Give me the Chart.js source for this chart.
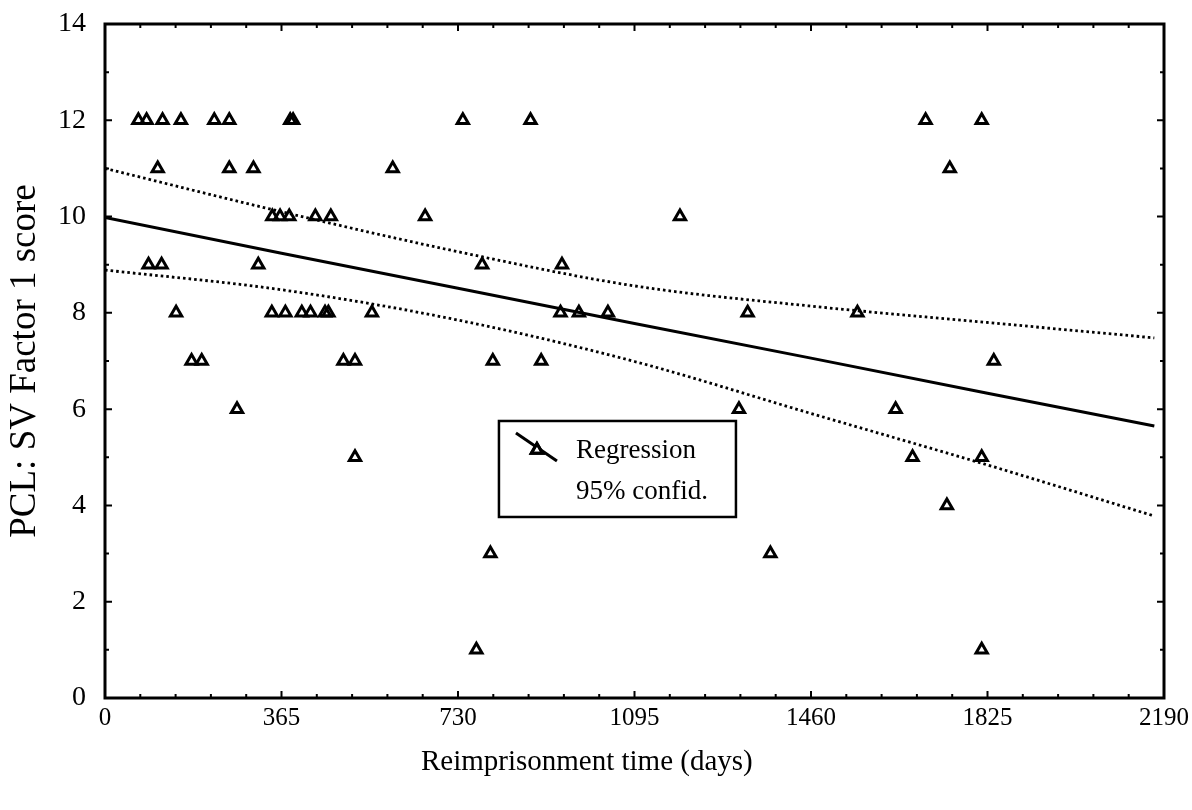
<!DOCTYPE html>
<html><head><meta charset="utf-8">
<script src="https://cdn.jsdelivr.net/npm/chart.js@4.4.0/dist/chart.umd.min.js"></script>
<style>html,body{margin:0;padding:0;background:#fff;}#wrap{width:1192px;height:810px;}</style>
</head><body><div id="wrap"><canvas id="c" width="1192" height="810"></canvas></div>
<script>
// ---- data ----
const xTickValues = [0, 365, 730, 1095, 1460, 1825, 2190];
const yTickValues = [0, 2, 4, 6, 8, 10, 12, 14];

const pointDays = [
  69, 86, 119, 157, 226, 257, 383, 389, 740, 880, 1697, 1813,
  109, 257, 307, 595, 1747,
  346, 362, 381, 435, 467, 662, 1189,
  90, 117, 317, 780, 945,
  147, 345, 373, 407, 425, 455, 462, 552, 942, 980, 1040, 1329, 1556,
  179, 200, 493, 517, 802, 902, 1838,
  273, 1311, 1635,
  517, 1670, 1813,
  1741,
  797, 1376,
  768, 1813
];
const pointScores = [
  12, 12, 12, 12, 12, 12, 12, 12, 12, 12, 12, 12,
  11, 11, 11, 11, 11,
  10, 10, 10, 10, 10, 10, 10,
  9, 9, 9, 9, 9,
  8, 8, 8, 8, 8, 8, 8, 8, 8, 8, 8, 8, 8,
  7, 7, 7, 7, 7, 7, 7,
  6, 6, 6,
  5, 5, 5,
  4,
  3, 3,
  1, 1
];

const fitDays  = [0, 365, 730, 1095, 1460, 1825, 2170];
const fitScore = [9.98, 9.24, 8.51, 7.78, 7.06, 6.33, 5.65];
const upperCI  = [11.0, 10.10, 9.27, 8.56, 8.14, 7.80, 7.48];
const lowerCI  = [8.89, 8.48, 7.85, 6.99, 5.91, 4.84, 3.78];

const seriesLabels = ['Regression', '95% confid.'];
const xTitle = 'Reimprisonment time (days)';
const yTitle = 'PCL: SV Factor 1 score';

// ---- build ----
const FONT = "'Liberation Serif', 'Times New Roman', serif";
Chart.defaults.color = '#000';
Chart.defaults.font.family = FONT;

const pts = pointDays.map((d, i) => ({x: d, y: pointScores[i]}));
const fitPts = fitDays.map((d, i) => ({x: d, y: fitScore[i]}));
const upPts = fitDays.map((d, i) => ({x: d, y: upperCI[i]}));
const loPts = fitDays.map((d, i) => ({x: d, y: lowerCI[i]}));

const framePlugin = {
  id: 'frameTicks',
  afterDraw(chart) {
    const ctx = chart.ctx, a = chart.chartArea;
    const xs = chart.scales.x, ys = chart.scales.y;
    ctx.save();
    ctx.strokeStyle = '#000';
    ctx.lineWidth = 2;
    const xStep = (xTickValues[1] - xTickValues[0]) / 5;
    for (let v = xs.min; v <= xs.max + 0.01; v += xStep) {
      const major = xTickValues.some(t => Math.abs(t - v) < 0.5);
      const L = major ? 7 : 4;
      const px = xs.getPixelForValue(v);
      ctx.beginPath();
      ctx.moveTo(px, a.bottom); ctx.lineTo(px, a.bottom - L);
      ctx.moveTo(px, a.top); ctx.lineTo(px, a.top + L);
      ctx.stroke();
    }
    const yStep = (yTickValues[1] - yTickValues[0]) / 2;
    for (let v = ys.min; v <= ys.max + 0.001; v += yStep) {
      const major = yTickValues.some(t => Math.abs(t - v) < 0.01);
      const L = major ? 7 : 4;
      const py = ys.getPixelForValue(v);
      ctx.beginPath();
      ctx.moveTo(a.left, py); ctx.lineTo(a.left + L, py);
      ctx.moveTo(a.right, py); ctx.lineTo(a.right - L, py);
      ctx.stroke();
    }
    ctx.lineWidth = 3;
    ctx.strokeRect(a.left, a.top, a.right - a.left, a.bottom - a.top);

    const xt = chart.options.plugins.frameTicks;
    ctx.fillStyle = '#000';
    ctx.font = '29px ' + FONT;
    ctx.textAlign = 'center';
    ctx.textBaseline = 'middle';
    ctx.fillText(xt.xTitle, a.left + xt.xTitleFrac * (a.right - a.left), a.bottom + xt.xTitleGap);

    const lg = xt.legend;
    const bx = a.left + lg.leftFrac * (a.right - a.left);
    const by = a.top + lg.topFrac * (a.bottom - a.top);
    ctx.fillStyle = '#fff';
    ctx.fillRect(bx, by, lg.w, lg.h);
    ctx.lineWidth = 2.5;
    ctx.strokeRect(bx, by, lg.w, lg.h);
    ctx.lineWidth = 3;
    ctx.beginPath();
    ctx.moveTo(bx + 17, by + 12);
    ctx.lineTo(bx + 58, by + 40);
    ctx.stroke();
    const ds = chart.data.datasets[0];
    Chart.helpers.drawPoint(ctx, {pointStyle: 'triangle', radius: ds.pointRadius, borderWidth: ds.pointBorderWidth, rotation: 0},
      bx + 38, by + 29);
    ctx.strokeStyle = '#000';
    ctx.lineWidth = ds.pointBorderWidth;
    ctx.stroke();
    ctx.fillStyle = '#000';
    ctx.font = '27px ' + FONT;
    ctx.textAlign = 'left';
    ctx.textBaseline = 'alphabetic';
    ctx.fillText(lg.labels[0], bx + 77, by + 37);
    ctx.fillText(lg.labels[1], bx + 77, by + 78);
    ctx.restore();
  }
};

new Chart(document.getElementById('c'), {
  type: 'scatter',
  data: {
    datasets: [
      {
        label: 'Data',
        data: pts,
        pointStyle: 'triangle',
        pointRadius: 6.5,
        pointBorderWidth: 3,
        pointBackgroundColor: 'rgba(0,0,0,0)',
        pointBorderColor: '#000',
        showLine: false
      },
      {
        type: 'line', label: seriesLabels[0], data: fitPts,
        borderColor: '#000', borderWidth: 3, pointRadius: 0, fill: false, tension: 0
      },
      {
        type: 'line', label: seriesLabels[1], data: upPts,
        borderColor: '#000', borderWidth: 2.8, borderDash: [2.6, 3], pointRadius: 0, fill: false,
        cubicInterpolationMode: 'monotone'
      },
      {
        type: 'line', label: seriesLabels[1] + ' (lower)', data: loPts,
        borderColor: '#000', borderWidth: 2.8, borderDash: [2.6, 3], pointRadius: 0, fill: false,
        cubicInterpolationMode: 'monotone'
      }
    ]
  },
  options: {
    responsive: false,
    animation: false,
    devicePixelRatio: 1,
    layout: {padding: {top: 24, right: 28, left: 0, bottom: 0}},
    plugins: {
      legend: {display: false},
      tooltip: {enabled: false},
      frameTicks: {
        xTitle: xTitle, xTitleFrac: 0.455, xTitleGap: 64,
        legend: {leftFrac: 0.372, topFrac: 0.589, w: 237, h: 96, labels: seriesLabels}
      }
    },
    scales: {
      x: {
        type: 'linear', min: 0, max: 2190,
        afterBuildTicks: s => { s.ticks = xTickValues.map(v => ({value: v})); },
        afterFit: s => { s.height = 112; s.paddingLeft = 0; s.paddingRight = 0; },
        ticks: {font: {family: FONT, size: 25}, padding: 5, maxRotation: 0, autoSkip: false, color: '#000',
                callback: v => String(v)},
        grid: {display: false, drawTicks: false},
        border: {display: false},
        title: {display: false, text: xTitle}
      },
      y: {
        type: 'linear', min: 0, max: 14,
        afterBuildTicks: s => { s.ticks = yTickValues.map(v => ({value: v})); },
        afterFit: s => { s.width = 105; s.paddingTop = 0; s.paddingBottom = 0; },
        ticks: {font: {family: FONT, size: 28}, padding: 19, autoSkip: false, color: '#000',
                callback: v => String(v)},
        grid: {display: false, drawTicks: false},
        border: {display: false},
        title: {display: true, text: yTitle, font: {family: FONT, size: 37}, padding: {top: 3, bottom: 0}, color: '#000'}
      }
    }
  },
  plugins: [framePlugin]
});
</script></body></html>
